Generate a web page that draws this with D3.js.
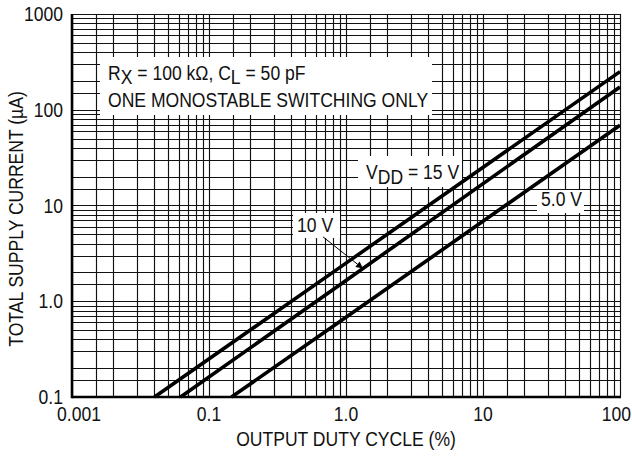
<!DOCTYPE html>
<html>
<head>
<meta charset="utf-8">
<script src="https://cdn.jsdelivr.net/npm/d3@7"></script>
<style>
  body { margin: 0; background: #fff; }
  text { font-family: 'Liberation Sans', Arial, sans-serif; fill: #111; }
</style>
</head>
<body>
<div id="chart"></div>
<script>
// ticks and labels (the first x label reads 0.001 on the original sheet)
const xTicks = [0.01, 0.1, 1, 10, 100];
const xTickLabels = ['0.001', '0.1', '1.0', '10', '100'];
const yTicks = [0.1, 1, 10, 100, 1000];
const yTickLabels = ['0.1', '1.0', '10', '100', '1000'];
const gridSteps = [1, 1.5, 2, 3, 4, 5, 6, 7, 8, 9];

// curves: duty cycle (%) vs supply current (uA)
const duty15 = [0.04, 1.0, 100];
const current15 = [0.1, 2.5, 250];
const duty10 = [0.062, 1.0, 100];
const current10 = [0.1, 1.65, 173];
const duty5 = [0.146, 1.0, 100];
const current5 = [0.1, 0.68, 69];

let width = 632, height = 461;
let margin = { top: 14, right: 12, bottom: 64, left: 72 };
let SX = 0.9, FS = 19.5;

let svg = d3.select('#chart').append('svg')
    .attr('width', width)
    .attr('height', height);

let x = d3.scaleLog().domain([0.01, 100]).range([margin.left, width - margin.right]);
let y = d3.scaleLog().domain([0.1, 1000]).range([height - margin.bottom, margin.top]);

function gridValues(domain) {
    let out = [];
    for (let d = domain[0]; d < domain[1] * 0.999; d *= 10) {
        gridSteps.forEach((s) => out.push(d * s));
    }
    out.push(domain[1]);
    return out;
}

// grid
let grid = svg.append('g').attr('stroke', '#111').attr('stroke-width', 1.15);
grid.selectAll('.gx').data(gridValues(x.domain())).enter().append('line')
    .attr('x1', (d) => Math.round(x(d)) + 0.5).attr('x2', (d) => Math.round(x(d)) + 0.5)
    .attr('y1', y.range()[1]).attr('y2', y.range()[0]);
grid.selectAll('.gy').data(gridValues(y.domain())).enter().append('line')
    .attr('y1', (d) => Math.round(y(d)) + 0.5).attr('y2', (d) => Math.round(y(d)) + 0.5)
    .attr('x1', x.range()[0]).attr('x2', x.range()[1]);

// axes (thick left / bottom)
svg.append('line')
    .attr('x1', x.range()[0]).attr('x2', x.range()[0])
    .attr('y1', y.range()[1]).attr('y2', y.range()[0] + 1.2)
    .attr('stroke', '#000').attr('stroke-width', 2.6);
svg.append('line')
    .attr('x1', x.range()[0]).attr('x2', x.range()[1] + 1)
    .attr('y1', y.range()[0]).attr('y2', y.range()[0])
    .attr('stroke', '#000').attr('stroke-width', 2.4);

// white label boxes covering the grid
let boxes = [
    [100, 57, 332, 58],
    [358, 156, 104, 31],
    [537, 190, 47, 23],
    [293, 213, 47, 25]
];
svg.append('g').selectAll('rect').data(boxes).enter().append('rect')
    .attr('x', (d) => d[0]).attr('y', (d) => d[1])
    .attr('width', (d) => d[2]).attr('height', (d) => d[3])
    .attr('fill', '#fff');

// curves
let line = d3.line().x((d) => x(d[0])).y((d) => y(d[1]));
let series = [
    d3.zip(duty15, current15),
    d3.zip(duty10, current10),
    d3.zip(duty5, current5)
];
svg.append('g').selectAll('path').data(series).enter().append('path')
    .attr('d', line)
    .attr('fill', 'none')
    .attr('stroke', '#000')
    .attr('stroke-width', 3.6);

// condensed text helper
function label(px, py, anchor, parts, rotate) {
    let g = svg.append('g')
        .attr('transform', `translate(${px},${py})` + (rotate ? ` rotate(${rotate})` : '') + ` scale(${SX},1)`);
    let t = g.append('text').attr('text-anchor', anchor).attr('font-size', FS);
    parts.forEach((p) => {
        let sp = t.append('tspan').text(p.t);
        if (p.dy) sp.attr('dy', p.dy);
    });
    return t;
}

// tick labels (end ones nudged inside the page)
yTicks.forEach((v, i) => label(63, y(v) + 7, 'end', [{ t: yTickLabels[i] }]));
xTicks.forEach((v, i) => {
    let last = i === xTicks.length - 1;
    label(x(v) + (i === 0 ? 7 : 0) + (last ? 11 : 0), 421, last ? 'end' : 'middle', [{ t: xTickLabels[i] }]);
});

// axis titles
label(x(1), 446, 'middle', [{ t: 'OUTPUT DUTY CYCLE (%)' }]);
label(23, 219, 'middle', [{ t: 'TOTAL SUPPLY CURRENT (\u00b5A)' }], -90);

// annotations
label(108, 80, 'start', [
    { t: 'R' }, { t: 'X', dy: 4 }, { t: ' = 100 k\u03a9, C', dy: -4 }, { t: 'L', dy: 4 }, { t: ' = 50 pF', dy: -4 }
]);
label(108, 106.5, 'start', [{ t: 'ONE MONOSTABLE SWITCHING ONLY' }]);
label(366, 179, 'start', [{ t: 'V' }, { t: 'DD', dy: 5 }, { t: ' = 15 V', dy: -5 }]);
label(541, 206, 'start', [{ t: '5.0 V' }]);
label(297, 232, 'start', [{ t: '10 V' }]);

// leader from the 10 V label to its curve
svg.append('defs').append('marker')
    .attr('id', 'arr')
    .attr('viewBox', '0 0 10 10')
    .attr('refX', 10).attr('refY', 5)
    .attr('markerWidth', 10).attr('markerHeight', 7)
    .attr('markerUnits', 'userSpaceOnUse')
    .attr('orient', 'auto')
    .append('path').attr('d', 'M0,0L10,5L0,10Z').attr('fill', '#000');
svg.append('line')
    .attr('x1', x(0.68)).attr('y1', y(4.7))
    .attr('x2', x(1.33)).attr('y2', y(1.33 * 1.65))
    .attr('stroke', '#000').attr('stroke-width', 1)
    .attr('marker-end', 'url(#arr)');
</script>
</body>
</html>
